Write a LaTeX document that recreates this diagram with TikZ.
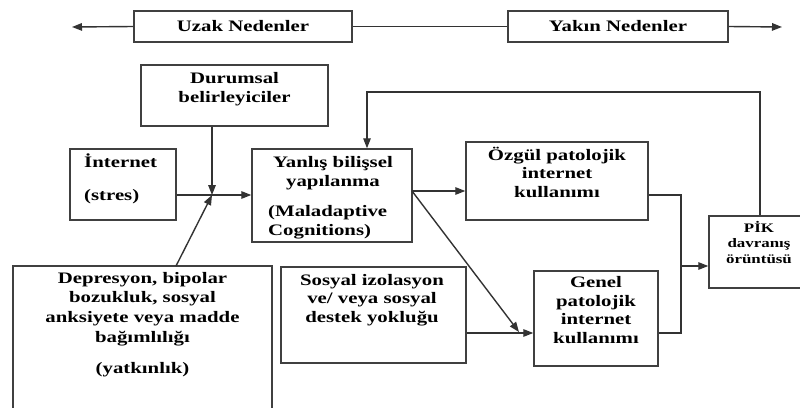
\documentclass[tikz,border=0pt]{standalone}
\usepackage{fontspec}
\setmainfont[FakeStretch=1.3]{Liberation Serif}
\usetikzlibrary{arrows.meta}
\begin{document}
\begin{tikzpicture}[x=1pt,y=-1pt,
  ln/.style={draw=black!80, line width=1.4pt},
  arr/.style={ln, -{Triangle[length=10pt,width=7.5pt]}},
  box/.style={draw=black!75, line width=1.5pt, inner sep=0pt, rectangle},
  txt/.style={font=\bfseries\fontsize{16}{18.5}\selectfont, inner sep=0pt, align=center, anchor=base},
  txtl/.style={txt, align=left, anchor=base west},
  txts/.style={font=\bfseries\fontsize{13}{15.5}\selectfont, inner sep=0pt, align=center, anchor=base},
]
\useasboundingbox (0,0) rectangle (800,407);
\clip (0,0) rectangle (800,407);
% boxes
\node[box, minimum width=218pt, minimum height=31pt] (uzak) at (243,26.5) {};
\node[box, minimum width=220pt, minimum height=31pt] (yakin) at (618,26.5) {};
\node[box, minimum width=187pt, minimum height=61pt] (durumsal) at (234.5,95.5) {};
\node[box, minimum width=106pt, minimum height=71pt] (internet) at (123,184.5) {};
\node[box, minimum width=160pt, minimum height=93pt] (yanlis) at (332,195.5) {};
\node[box, minimum width=182pt, minimum height=78pt] (ozgul) at (557,181) {};
\node[box, minimum width=97pt, minimum height=72pt] (pik) at (757.5,252) {};
\node[box, minimum width=259pt, minimum height=146pt] (depresyon) at (142.5,339) {};
\node[box, minimum width=185pt, minimum height=96pt] (sosyal) at (373.5,315) {};
\node[box, minimum width=124pt, minimum height=95pt] (genel) at (596,318.5) {};
% texts (base anchor = baseline of the last line)
\node[txt, anchor=center] (tuzak) at (uzak.center) {Uzak Nedenler};
\node[txt, anchor=center] (tyakin) at (yakin.center) {Yakın Nedenler};
\node[txt] (tdurumsal) at (234.5,102) {Durumsal\\belirleyiciler};
\node[txtl] (tinternet) at (84,200) {İnternet\\[14pt](stres)};
\node[txt, font=\bfseries\fontsize{16}{19}\selectfont] (tyanlis) at (333,186) {Yanlış bilişsel\\yapılanma};
\node[txtl] (tmal) at (268,235) {(Maladaptive\\Cognitions)};
\node[txt] (tozgul) at (557,197) {Özgül patolojik\\internet\\kullanımı};
\node[txts] (tpik) at (759,263) {PİK\\davranış\\örüntüsü};
\node[txt, font=\bfseries\fontsize{16}{19.7}\selectfont] (tdep) at (142.5,373) {Depresyon, bipolar\\bozukluk, sosyal\\anksiyete veya madde\\bağımlılığı\\[11pt](yatkınlık)};
\node[txt] (tsos) at (372,322) {Sosyal izolasyon\\ve/ veya sosyal\\destek yokluğu};
\node[txt] (tgen) at (596,343) {Genel\\patolojik\\internet\\kullanımı};
% coordinates
\coordinate (L) at (72,27);
\coordinate (R) at (782,27);
\coordinate (J) at (212,195);
\coordinate (dtop) at (176,266);
\coordinate (Y1) at (412,191);
\coordinate (G1) at (519,332);
\coordinate (K1) at (681,195);
\coordinate (K2) at (681,333);
\coordinate (K3) at (681,266);
\coordinate (F1) at (760,92);
\coordinate (F2) at (367,92);
% connectors
\draw[arr] (uzak.west) -- (L);
\draw[ln] (uzak.east) -- (yakin.west);
\draw[arr] (yakin.east) -- (R);
\draw[arr] (durumsal.south -| J) -- (J);
\draw[ln] (internet.east |- J) -- (J);
\draw[arr] (J) -- (J -| yanlis.west);
\draw[arr] (dtop) -- (J);
\draw[arr] (Y1) -- (Y1 -| ozgul.west);
\draw[arr] (Y1) -- (G1);
\draw[arr] (sosyal.east |- K2) -- (genel.west |- K2);
\draw[ln] (ozgul.east |- K1) -- (K1) -- (K2) -- (genel.east |- K2);
\draw[arr] (K3) -- (pik.west |- K3);
\draw[arr] (pik.north -| F1) -- (F1) -- (F2) -- (yanlis.north -| F2);
\end{tikzpicture}
\end{document}
